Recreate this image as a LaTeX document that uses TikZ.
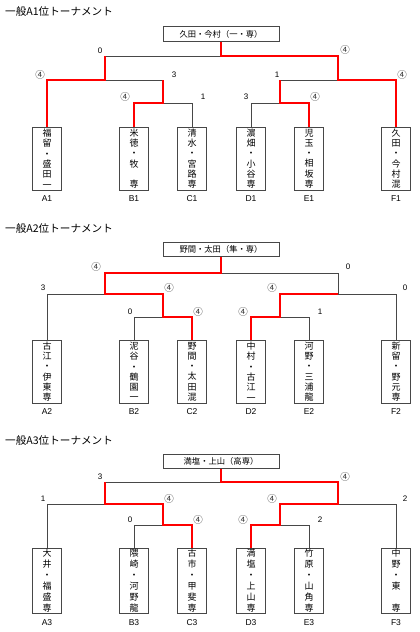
\documentclass[tikz,border=0pt]{standalone}
\usepackage{fontspec}
\setmainfont{Liberation Sans}
\newfontfamily\jp{Noto Sans CJK JP}
\newcommand\mksec[4]{%
 \coordinate (hc#1) at (221,#2); \coordinate (hl#1) at (105,#2); \coordinate (hr#1) at (338,#2);
 \coordinate (ml#1) at (105,#3); \coordinate (mr#1) at (338,#3);
 \coordinate (pa#1) at (47,#3); \coordinate (pb#1) at (163,#3); \coordinate (pc#1) at (280,#3); \coordinate (pd#1) at (396,#3);
 \coordinate (nl#1) at (163,#4); \coordinate (nr#1) at (280,#4);
 \coordinate (qb#1) at (134,#4); \coordinate (qc#1) at (192,#4); \coordinate (qd#1) at (251,#4); \coordinate (qe#1) at (309,#4);
}
\tikzset{
 ln/.style={draw=black!72, line width=0.8pt},
 win/.style={draw=red, line width=2pt},
 player/.style={draw=black!72, line width=0.8pt, minimum width=29pt, minimum height=63pt, inner sep=0pt,
   font=\jp\fontsize{9}{10.3}\selectfont, align=center},
 playerb/.style={player, minimum height=65pt, font=\jp\fontsize{9}{11}\selectfont},
 champ/.style={draw=black!72, line width=0.8pt, minimum width=116pt, minimum height=14.5pt, inner sep=0pt,
   font=\jp\fontsize{8.3}{9}\selectfont},
 sc/.style={font=\fontsize{8}{8}\selectfont, inner sep=0pt},
 cw/.style={font=\jp\fontsize{9.5}{10}\selectfont, inner sep=0pt, text=black!80},
 lbl/.style={font=\fontsize{8.5}{9}\selectfont, inner sep=0pt},
 ttl/.style={font=\jp\fontsize{10.6}{11}\selectfont, anchor=west, inner sep=0pt}
}
\begin{document}
\begin{tikzpicture}[x=1pt,y=-1pt]
\useasboundingbox[fill=white] (0,0) rectangle (420,632);

%%%%%%%%%%%%%%%% Section 1
\node[ttl] (title1) at (5,11) {一般A1位トーナメント};
\node[champ] (t1) at (221,34) {久田・今村（一・専）};
\mksec{1}{56}{80}{103}
\node[player] (a1) at (47,158.5) {福\\留\\・\\盛\\田\\一};
\node[player] (b1) at (134,158.5) {米\\徳\\・\\牧\\~\\専};
\node[player] (c1) at (192,158.5) {清\\水\\・\\宮\\路\\専};
\node[player] (d1) at (251,158.5) {濵\\畑\\・\\小\\谷\\専};
\node[player] (e1) at (309,158.5) {児\\玉\\・\\相\\坂\\専};
\node[player] (f1) at (396,158.5) {久\\田\\・\\今\\村\\混};
\node[lbl] (la1) at (47,199) {A1};
\node[lbl] (lb1) at (134,199) {B1};
\node[lbl] (lc1) at (192,199) {C1};
\node[lbl] (ld1) at (251,199) {D1};
\node[lbl] (le1) at (309,199) {E1};
\node[lbl] (lf1) at (396,199) {F1};
% black
\draw[ln] (hc1) -- (hl1);
\draw[ln] (ml1) -- (pb1);
\draw[ln] (pc1) -- (mr1);
\draw[ln] (nl1) -- (qc1) -- (c1.north);
\draw[ln] (nr1) -- (qd1) -- (d1.north);
% red
\draw[win] (t1.south) -- (hc1) -- (hr1) -- (mr1) -- (pd1) -- (f1.north);
\draw[win] (hl1) -- (ml1) -- (pa1) -- (a1.north);
\draw[win] (pb1) -- (nl1) -- (qb1) -- (b1.north);
\draw[win] (pc1) -- (nr1) -- (qe1) -- (e1.north);
% scores
\node[sc] (s1a) at (100,51) {0};
\node[cw] (s1b) at (345,50) {④};
\node[cw] (s1c) at (40,75) {④};
\node[sc] (s1d) at (174,75) {3};
\node[sc] (s1e) at (277,75) {1};
\node[cw] (s1f) at (402,75) {④};
\node[cw] (s1g) at (125,97) {④};
\node[sc] (s1h) at (203,97) {1};
\node[sc] (s1i) at (246,97) {3};
\node[cw] (s1j) at (315,97) {④};

%%%%%%%%%%%%%%%% Section 2
\node[ttl] (title2) at (5,228) {一般A2位トーナメント};
\node[champ] (t2) at (221,249.5) {野間・太田（隼・専）};
\mksec{2}{273}{294}{317}
\node[player] (a2) at (47,371.5) {古\\江\\・\\伊\\東\\専};
\node[player] (b2) at (134,371.5) {泥\\谷\\・\\鶴\\園\\一};
\node[player] (c2) at (192,371.5) {野\\間\\・\\太\\田\\混};
\node[player] (d2) at (251,371.5) {中\\村\\・\\古\\江\\一};
\node[player] (e2) at (309,371.5) {河\\野\\・\\三\\浦\\龍};
\node[player] (f2) at (396,371.5) {新\\留\\・\\野\\元\\専};
\node[lbl] (la2) at (47,412) {A2};
\node[lbl] (lb2) at (134,412) {B2};
\node[lbl] (lc2) at (192,412) {C2};
\node[lbl] (ld2) at (251,412) {D2};
\node[lbl] (le2) at (309,412) {E2};
\node[lbl] (lf2) at (396,412) {F2};
% black
\draw[ln] (hc2) -- (hr2) -- (mr2) -- (pd2) -- (f2.north);
\draw[ln] (ml2) -- (pa2) -- (a2.north);
\draw[ln] (nl2) -- (qb2) -- (b2.north);
\draw[ln] (nr2) -- (qe2) -- (e2.north);
% red
\draw[win] (t2.south) -- (hc2) -- (hl2) -- (ml2) -- (pb2) -- (nl2) -- (qc2) -- (c2.north);
\draw[win] (mr2) -- (pc2) -- (nr2) -- (qd2) -- (d2.north);
% scores
\node[cw] (s2a) at (96,267) {④};
\node[sc] (s2b) at (348,267) {0};
\node[sc] (s2c) at (43,288) {3};
\node[cw] (s2d) at (169,288) {④};
\node[cw] (s2e) at (272,288) {④};
\node[sc] (s2f) at (405,288) {0};
\node[sc] (s2g) at (130,312) {0};
\node[cw] (s2h) at (198,312) {④};
\node[cw] (s2i) at (243,312) {④};
\node[sc] (s2j) at (320,312) {1};

%%%%%%%%%%%%%%%% Section 3
\node[ttl] (title3) at (5,440) {一般A3位トーナメント};
\node[champ] (t3) at (221,461.5) {満塩・上山（高専）};
\mksec{3}{482}{504}{525}
\node[playerb] (a3) at (47,580.5) {大\\井\\・\\福\\盛\\専};
\node[playerb] (b3) at (134,580.5) {隈\\崎\\・\\河\\野\\龍};
\node[playerb] (c3) at (192,580.5) {古\\市\\・\\甲\\斐\\専};
\node[playerb] (d3) at (251,580.5) {満\\塩\\・\\上\\山\\専};
\node[playerb] (e3) at (309,580.5) {竹\\原\\・\\山\\角\\専};
\node[playerb] (f3) at (396,580.5) {中\\野\\・\\東\\~\\専};
\node[lbl] (la3) at (47,623) {A3};
\node[lbl] (lb3) at (134,623) {B3};
\node[lbl] (lc3) at (192,623) {C3};
\node[lbl] (ld3) at (251,623) {D3};
\node[lbl] (le3) at (309,623) {E3};
\node[lbl] (lf3) at (396,623) {F3};
% black
\draw[ln] (hc3) -- (hl3);
\draw[ln] (ml3) -- (pa3) -- (a3.north);
\draw[ln] (mr3) -- (pd3) -- (f3.north);
\draw[ln] (nl3) -- (qb3) -- (b3.north);
\draw[ln] (nr3) -- (qe3) -- (e3.north);
% red
\draw[win] (t3.south) -- (hc3) -- (hr3) -- (mr3) -- (pc3) -- (nr3) -- (qd3) -- (d3.north);
\draw[win] (hl3) -- (ml3) -- (pb3) -- (nl3) -- (qc3) -- (c3.north);
% scores
\node[sc] (s3a) at (100,477) {3};
\node[cw] (s3b) at (345,477) {④};
\node[sc] (s3c) at (43,499) {1};
\node[cw] (s3d) at (169,499) {④};
\node[cw] (s3e) at (272,499) {④};
\node[sc] (s3f) at (405,499) {2};
\node[sc] (s3g) at (130,520) {0};
\node[cw] (s3h) at (198,520) {④};
\node[cw] (s3i) at (243,520) {④};
\node[sc] (s3j) at (320,520) {2};
\end{tikzpicture}
\end{document}
